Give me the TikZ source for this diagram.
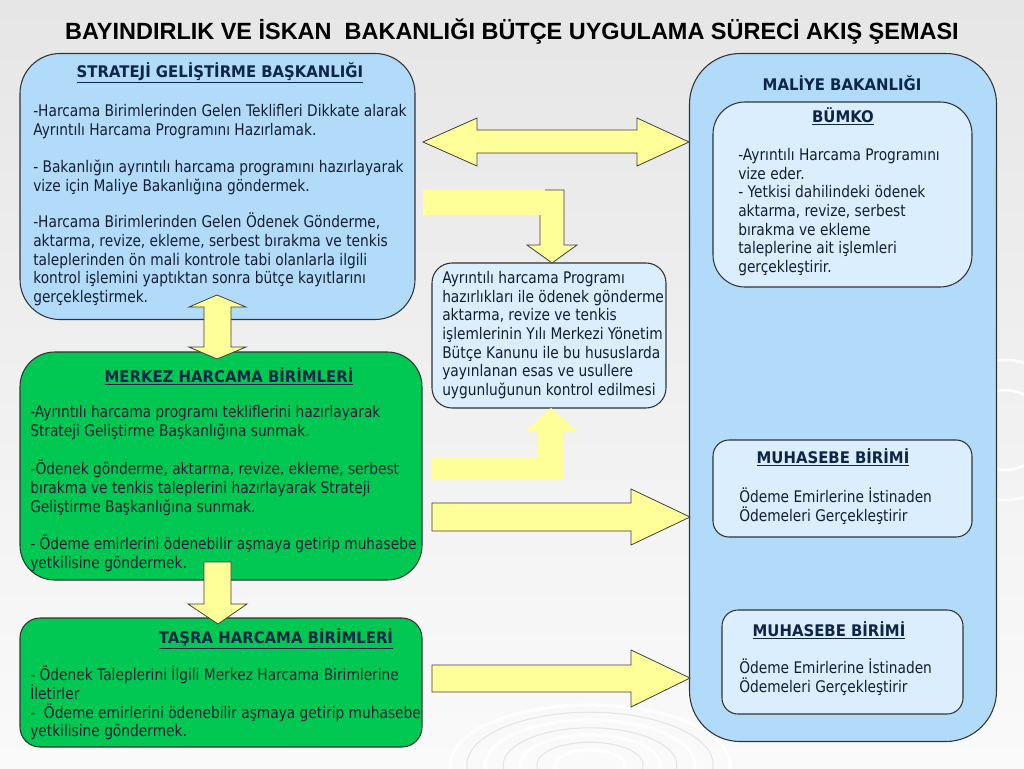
\documentclass[tikz,border=0pt]{standalone}
\usepackage{fontspec}
\setmainfont[FakeStretch=0.86,BoldFeatures={FakeStretch=0.93}]{DejaVu Sans}
\newfontfamily\headfont{Liberation Sans}
\usetikzlibrary{positioning}

\definecolor{skyblue}{RGB}{178,219,250}
\definecolor{paleblue}{RGB}{218,238,253}
\definecolor{boxgreen}{RGB}{0,200,82}
\definecolor{arrowyellow}{RGB}{255,255,153}
\definecolor{darknavy}{RGB}{12,38,72}
\definecolor{bodyink}{RGB}{20,30,50}
\definecolor{bgtop}{RGB}{230,230,230}
\definecolor{bgbottom}{RGB}{250,250,250}

\begin{document}
\begin{tikzpicture}[x=0.75pt,y=-0.75pt,
		every node/.style={font=\fontsize{12}{14}\selectfont},
		bigbox/.style={draw=black!80,line width=0.8pt,inner sep=0pt},
		boxhead/.style={anchor=base,inner sep=0pt,text=darknavy,font=\fontsize{12}{14}\selectfont\bfseries},
		boxtext/.style={anchor=north west,align=left,inner sep=0pt,text=bodyink,execute at begin node=\strut},
		blockarrow/.style={fill=arrowyellow,draw=black!75,line width=0.6pt,line join=miter}]

		% background and ripples
		\shade[top color=bgtop,bottom color=bgbottom] (0,0) rectangle (1024,768);
		\useasboundingbox (0,0) rectangle (1024,768);
		\begin{scope}
			\clip (0,0) rectangle (1024,768);
			\foreach \r in {25,50,75,100}
				\draw[white,line width=2.5pt,opacity=0.8] (590,765) ellipse [x radius=1.4*\r, y radius=0.6*\r];
			\foreach \r in {38,62,88}
				\draw[black!10,line width=0.8pt] (590,765) ellipse [x radius=1.4*\r, y radius=0.6*\r];
			\foreach \r in {40,70}
				\draw[white,line width=2pt,opacity=0.8] (1005,430) circle [radius=\r];
		\end{scope}

		\draw (512,39) node (title) [anchor=base,inner sep=0pt,font=\headfont\fontsize{17.6}{20}\selectfont\bfseries] {BAYINDIRLIK VE İSKAN~ BAKANLIĞI BÜTÇE UYGULAMA SÜRECİ AKIŞ ŞEMASI};

		% left column
		\draw (217.5,186.5) node (strateji) [bigbox,fill=skyblue,rounded corners=30pt,minimum width=296.25pt,minimum height=199.5pt] {};
		\draw (221,466) node (merkez) [bigbox,fill=boxgreen,rounded corners=26pt,minimum width=301.5pt,minimum height=171pt] {};
		\draw (221,682.5) node (tasra) [bigbox,fill=boxgreen,rounded corners=15pt,minimum width=301.5pt,minimum height=96.75pt] {};

		\draw (220,77) node (strateji head) [boxhead] {\underline{STRATEJİ GELİŞTİRME BAŞKANLIĞI}};
		\draw (33,104) node (strateji text) [boxtext] {-Harcama Birimlerinden Gelen Teklifleri Dikkate alarak\\
			Ayrıntılı Harcama Programını Hazırlamak.\\[14pt]
			- Bakanlığın ayrıntılı harcama programını hazırlayarak\\
			vize için Maliye Bakanlığına göndermek.\\[13.5pt]
			-Harcama Birimlerinden Gelen Ödenek Gönderme,\\
			aktarma, revize, ekleme, serbest bırakma ve tenkis\\
			taleplerinden ön mali kontrole tabi olanlarla ilgili\\
			kontrol işlemini yaptıktan sonra bütçe kayıtlarını\\
			gerçekleştirmek.};

		\draw (229,382) node (merkez head) [boxhead] {\underline{MERKEZ HARCAMA BİRİMLERİ}};
		\draw (30,405) node (merkez text) [boxtext] {-Ayrıntılı harcama programı tekliflerini hazırlayarak\\
			Strateji Geliştirme Başkanlığına sunmak.\\[15pt]
			-Ödenek gönderme, aktarma, revize, ekleme, serbest\\
			bırakma ve tenkis taleplerini hazırlayarak Strateji\\
			Geliştirme Başkanlığına sunmak.\\[14pt]
			- Ödeme emirlerini ödenebilir aşmaya getirip muhasebe\\
			yetkilisine göndermek.};

		\draw (276,643) node (tasra head) [boxhead] {\underline{TAŞRA HARCAMA BİRİMLERİ}};
		\draw (30,666) node (tasra text) [boxtext] {- Ödenek Taleplerini İlgili Merkez Harcama Birimlerine\\
			İletirler\\
			-~ Ödeme emirlerini ödenebilir aşmaya getirip muhasebe\\
			yetkilisine göndermek.};

		% middle box
		\draw (549,335.5) node (kontrol) [bigbox,fill=paleblue,rounded corners=15pt,minimum width=175.5pt,minimum height=108.75pt] {};
		\draw (442,271) node (kontrol text) [boxtext] {Ayrıntılı harcama Programı\\
			hazırlıkları ile ödenek gönderme\\
			aktarma, revize ve tenkis\\
			işlemlerinin Yılı Merkezi Yönetim\\
			Bütçe Kanunu ile bu hususlarda\\
			yayınlanan esas ve usullere\\
			uygunluğunun kontrol edilmesi};

		% right column
		\draw (843,397.5) node (maliye) [bigbox,fill=skyblue,rounded corners=38pt,minimum width=230.25pt,minimum height=516pt] {};
		\draw (842,90) node (maliye head) [boxhead] {MALİYE BAKANLIĞI};

		\draw (842.5,194.5) node (bumko) [bigbox,fill=paleblue,rounded corners=24pt,minimum width=194.25pt,minimum height=138.75pt] {};
		\draw (843,122) node (bumko head) [boxhead] {\underline{BÜMKO}};
		\draw (738,148) node (bumko text) [boxtext] {-Ayrıntılı Harcama Programını\\
			vize eder.\\
			- Yetkisi dahilindeki ödenek\\
			aktarma, revize, serbest\\
			bırakma ve ekleme\\
			taleplerine ait işlemleri\\
			gerçekleştirir.};

		\draw (842.5,488.5) node (muhasebe1) [bigbox,fill=paleblue,rounded corners=12pt,minimum width=194.25pt,minimum height=72.75pt] {};
		\draw (833,463) node (muhasebe1 head) [boxhead] {\underline{MUHASEBE BİRİMİ}};
		\draw (739,488) node (muhasebe1 text) [boxtext] {Ödeme Emirlerine İstinaden\\
			Ödemeleri Gerçekleştirir};

		\draw (842.5,662) node (muhasebe2) [bigbox,fill=paleblue,rounded corners=12pt,minimum width=180.75pt,minimum height=78pt] {};
		\draw (829,636) node (muhasebe2 head) [boxhead] {\underline{MUHASEBE BİRİMİ}};
		\draw (739,659) node (muhasebe2 text) [boxtext] {Ödeme Emirlerine İstinaden\\
			Ödemeleri Gerçekleştirir};

		% block arrows
		\draw[blockarrow] (423,142) -- (477,118) -- (477,130) -- (637,130) -- (637,118) -- (689,142)
			-- (637,166) -- (637,153) -- (477,153) -- (477,166) -- cycle;
		\draw[blockarrow] (217,295) -- (246,307) -- (231,307) -- (231,347) -- (246,347) -- (217,359)
			-- (189,347) -- (204,347) -- (204,307) -- (189,307) -- cycle;
		\draw[blockarrow] (204,562) -- (231,562) -- (231,604) -- (247,604) -- (218,624) -- (188,604)
			-- (204,604) -- cycle;
		\draw[blockarrow] (432,503) -- (631,503) -- (631,489) -- (690,517) -- (631,545) -- (631,531)
			-- (432,531) -- cycle;
		\draw[blockarrow] (432,665) -- (631,665) -- (631,650) -- (690,678) -- (631,707) -- (631,692)
			-- (432,692) -- cycle;
		\fill[arrowyellow] (423,190) -- (564,190) -- (564,245) -- (577,245) -- (552,263) -- (527,245)
			-- (540,245) -- (540,215) -- (423,215) -- cycle;
		\draw[black!75,line width=0.6pt] (545,190) -- (564,190) -- (564,245) -- (577,245) -- (552,263)
			-- (527,245) -- (540,245) -- (540,215);
		\fill[arrowyellow] (432,480) -- (563,480) -- (563,431) -- (577,431) -- (551,408) -- (526,431)
			-- (538,431) -- (538,457) -- (432,457) -- cycle;
	\end{tikzpicture}
\end{document}
